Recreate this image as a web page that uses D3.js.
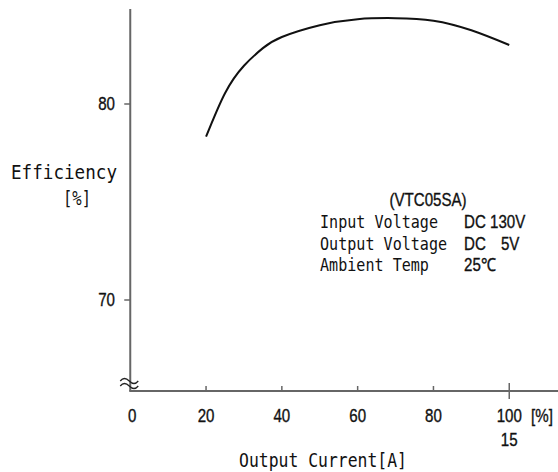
<!DOCTYPE html>
<html>
<head>
<meta charset="utf-8">
<script src="https://cdn.jsdelivr.net/npm/d3@7"></script>
<style>
  body { margin: 0; background: #fff; }
  .mono { font-family: "DejaVu Sans Mono", monospace; fill: #111; }
  .num { font-family: "Liberation Sans Narrow", "Liberation Sans", Arial, sans-serif; fill: #111; stroke: #111; stroke-width: 0.35px; }
</style>
</head>
<body>
<div id="chart"></div>
<script>
// load [%] vs efficiency [%]
const loadPct = [20, 25, 30, 35, 40, 50, 60, 70, 80, 90, 100];
const efficiency = [78.33, 80.55, 81.95, 82.85, 83.42, 84.02, 84.33, 84.38, 84.25, 83.76, 83.01];

const xTicks = [0, 20, 40, 60, 80, 100];
const yTicks = [70, 80];
const notes = [
  ['Input Voltage', 'DC 130V'],
  ['Output Voltage', 'DC\u2002\u20025V'],
  ['Ambient Temp', '25\u2103']
];

const width = 558, height = 472;

const x = d3.scaleLinear().domain([0, 100]).range([130.25, 509.25]);
const y = d3.scaleLinear().domain([70, 80]).range([300, 104]);
const axisColor = '#666';

const svg = d3.select('#chart').append('svg')
  .attr('width', width)
  .attr('height', height);

const y0 = 391; // x-axis baseline

// condensed sans text, like the narrow numerals of the original
function numText(px, py, str, anchor) {
  return svg.append('g')
    .attr('transform', `translate(${px},${py}) scale(0.84,1)`)
    .append('text').attr('class', 'num')
    .attr('dy', '0.36em')
    .attr('text-anchor', anchor || 'start')
    .style('font-size', '18px')
    .text(str);
}

// tall mono text squeezed to a given width
function monoText(px, py, str, size, len) {
  return svg.append('text').attr('class', 'mono')
    .attr('x', px).attr('y', py).attr('dy', '0.36em')
    .style('font-size', size + 'px')
    .attr('textLength', len)
    .attr('lengthAdjust', 'spacingAndGlyphs')
    .text(str);
}

// y axis line
svg.append('line')
  .attr('x1', x(0)).attr('x2', x(0))
  .attr('y1', 9).attr('y2', y0)
  .attr('stroke', axisColor).attr('stroke-width', 2);

// x axis line (runs off the right edge)
svg.append('line')
  .attr('x1', x(0) - 1).attr('x2', width)
  .attr('y1', y0).attr('y2', y0)
  .attr('stroke', axisColor).attr('stroke-width', 2);

// y ticks
svg.selectAll('line.ytick').data(yTicks).join('line')
  .attr('class', 'ytick')
  .attr('x1', x(0) - 6).attr('x2', x(0))
  .attr('y1', d => y(d)).attr('y2', d => y(d))
  .attr('stroke', axisColor).attr('stroke-width', 1.5);

yTicks.forEach(d => numText(115, y(d), d, 'end'));

// x ticks (small, upward; 100 crosses the axis)
svg.selectAll('line.xtick').data(xTicks.filter(d => d > 0)).join('line')
  .attr('class', 'xtick')
  .attr('x1', d => x(d)).attr('x2', d => x(d))
  .attr('y1', d => d === 100 ? y0 - 8 : y0 - 5)
  .attr('y2', d => d === 100 ? y0 + 8 : y0)
  .attr('stroke', axisColor).attr('stroke-width', 1.5);

xTicks.forEach(d => numText(x(d) + (d === 0 ? 2 : 0), 416, d, 'middle'));
numText(542, 416, '[%]', 'middle');
numText(x(100), 440, '15', 'middle');

// axis break mark
const wave = (yy) => `M${x(0) - 10},${yy} q4,-5 9,0 t9,0`;
svg.selectAll('path.brk').data([381, 386]).join('path')
  .attr('class', 'brk')
  .attr('d', d => wave(d))
  .attr('fill', 'none').attr('stroke', '#222').attr('stroke-width', 1.3);

// curve
const line = d3.line()
  .x((d, i) => x(loadPct[i]))
  .y(d => y(d))
  .curve(d3.curveNatural);

svg.append('path')
  .datum(efficiency)
  .attr('d', line)
  .attr('fill', 'none')
  .attr('stroke', '#111')
  .attr('stroke-width', 2);

// axis titles
monoText(11, 172, 'Efficiency', 20, 106);
monoText(63, 198, '[%]', 19, 28);
monoText(239, 460, 'Output Current[A]', 20, 168);

// conditions note
numText(428, 200, '(VTC05SA)', 'middle');

notes.forEach((d, i) => {
  const ry = 222 + i * 21.5;
  monoText(320, ry, d[0], 17, d[0].length * 9.08);
  numText(464, ry, d[1]);
});
</script>
</body>
</html>
